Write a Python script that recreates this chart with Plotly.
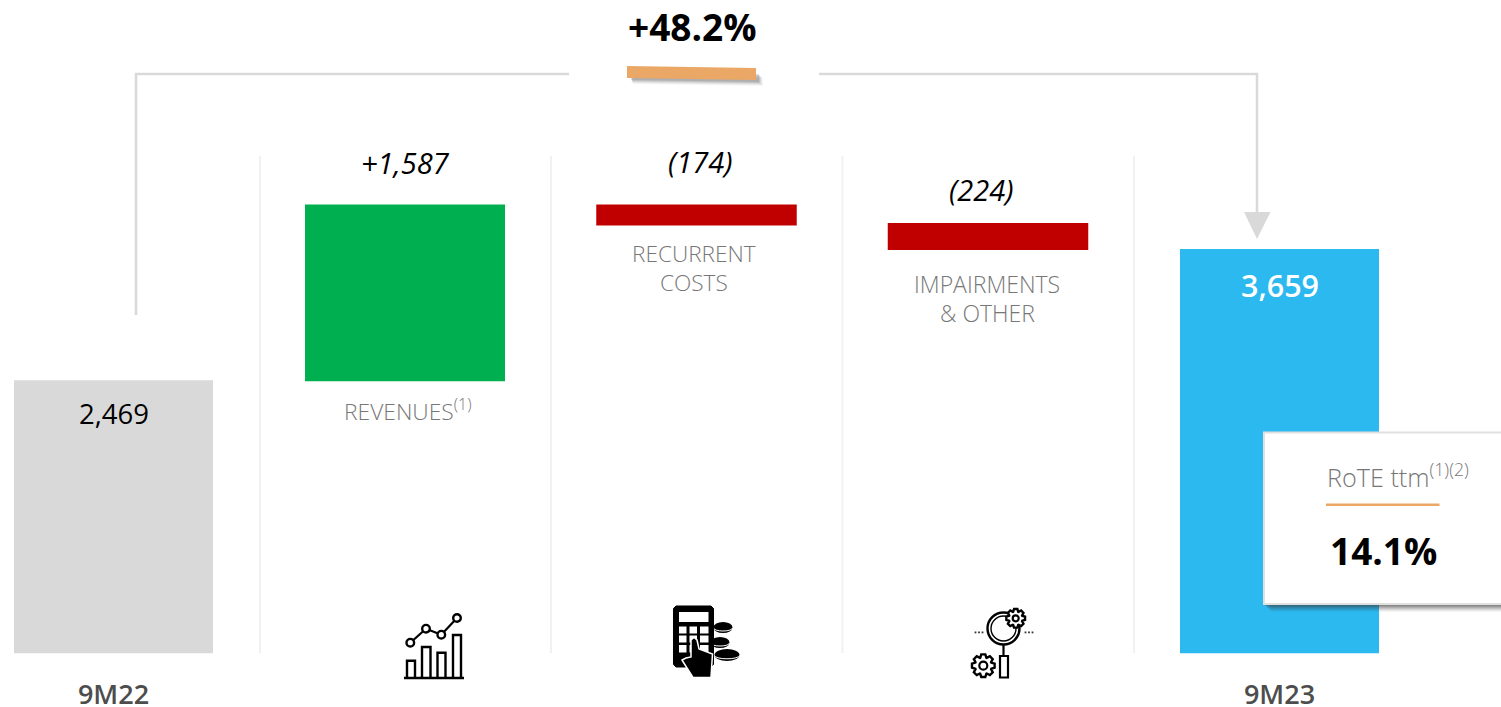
import math
import plotly.graph_objects as go

W, H = 1501, 707
STEP = 291.5
X0 = 113.5
ZERO_PX = 653.5
PX_PER_UNIT = 0.1107

# ---- data ----
categories = ["9M22", "Revenues", "Recurrent costs", "Impairments & other", "9M23"]
bar_base = [0, 2460, 3866, 3645, 0]
bar_top = [2469, 4056, 4056, 3890, 3655]
bar_colors = ["#D9D9D9", "#00B050", "#C00000", "#C00000", "#2CB9F0"]
bar_widths_px = [199, 200, 200.5, 200.5, 199]
value_labels = ["2,469", "+1,587", "(174)", "(224)", "3,659"]
tick_labels = ["9M22", "9M23"]
tick_positions = [0, 4]
headline = "+48.2%"
rote_title = "RoTE ttm<sup>(1)(2)</sup>"
rote_value = "14.1%"

FONT = "Open Sans"
GREY = "#D9D9D9"
ORANGE = "#EBA766"


def fx(x):
    return x / W


def fy(y):
    return 1 - y / H


def path(points, close=True):
    s = "M" + " L".join(f"{fx(x):.5f},{fy(y):.5f}" for x, y in points)
    return s + (" Z" if close else "")


shapes = []


def add_path(points, fill=None, line=None, lw=0, close=True, layer="above"):
    shapes.append(dict(type="path", xref="paper", yref="paper", path=path(points, close),
                       fillcolor=fill if fill else "rgba(0,0,0,0)",
                       line=dict(color=line if line else "rgba(0,0,0,0)", width=lw), layer=layer))


def add_rect(x0, y0, x1, y1, fill=None, line=None, lw=0, layer="above"):
    shapes.append(dict(type="rect", xref="paper", yref="paper", x0=fx(x0), x1=fx(x1), y0=fy(y1), y1=fy(y0),
                       fillcolor=fill if fill else "rgba(0,0,0,0)",
                       line=dict(color=line if line else "rgba(0,0,0,0)", width=lw), layer=layer))


def add_circle(cx, cy, r, fill=None, line=None, lw=0, ry=None):
    ry = r if ry is None else ry
    shapes.append(dict(type="circle", xref="paper", yref="paper", x0=fx(cx - r), x1=fx(cx + r),
                       y0=fy(cy + ry), y1=fy(cy - ry), fillcolor=fill if fill else "rgba(0,0,0,0)",
                       line=dict(color=line if line else "rgba(0,0,0,0)", width=lw), layer="above"))


def gear(cx, cy, r_out, r_in, r_hole, teeth=8):
    pts = []
    for i in range(teeth):
        a = 2 * math.pi * i / teeth
        d = math.pi / teeth
        for ang, r in [(a - d * 0.95, r_in), (a - d * 0.45, r_out), (a + d * 0.45, r_out), (a + d * 0.95, r_in)]:
            pts.append((cx + r * math.cos(ang), cy + r * math.sin(ang)))
    add_path(pts, fill="#FFFFFF", line="#000000", lw=2.4)
    add_circle(cx, cy, r_hole, fill="#FFFFFF", line="#000000", lw=2.2)


def coin(cx, cy, rx, ry):
    add_circle(cx, cy, rx, fill="#000000", ry=ry)
    curve = [(cx + rx * math.cos(t / 8 * math.pi), cy + 0.5 + ry * 0.55 * math.sin(t / 8 * math.pi)) for t in range(9)]
    add_path(curve, line="#FFFFFF", lw=1, close=False)


# separators
for sx in [260, 551, 842.5, 1134]:
    add_path([(sx, 156), (sx, 653)], line="#F1F1F1", lw=2, close=False, layer="below")

# connector
add_path([(136, 315), (136, 74), (569, 74)], line=GREY, lw=2.5, close=False)
add_path([(819, 74), (1257, 74), (1257, 214)], line=GREY, lw=2.5, close=False)
add_path([(1244, 212), (1270.5, 212), (1257, 239)], fill=GREY)

# orange slanted marker with soft shadow
for off, alpha in [(7, 0.05), (6, 0.08), (5, 0.11), (4, 0.14), (3, 0.17)]:
    add_path([(630 + off * 0.4, 69 + off), (756 + off, 71 + off), (756 + off, 79 + off), (630 + off * 0.4, 77 + off)],
             fill=f"rgba(80,80,80,{alpha})")
add_path([(627, 66), (756, 68), (756, 80), (627, 78)], fill=ORANGE)

# card
for off, alpha in [(8, 0.05), (7, 0.07), (6, 0.09), (5, 0.12), (4, 0.15), (3, 0.18), (2, 0.2)]:
    add_rect(1263 + off, 440, 1510, 604 + off, fill=f"rgba(60,60,60,{alpha})")
add_rect(1264, 432.5, 1510, 604, fill="#FFFFFF", line="#E0E0E0", lw=2)
add_rect(1326, 503.5, 1439.5, 506, fill=ORANGE)

# chart icon
add_path([(404, 678), (464, 678)], line="#000000", lw=2.5, close=False)
for x0, x1, top in [(407, 415, 660.7), (422, 430.5, 647), (437.5, 445.5, 652.7), (453, 461, 635)]:
    add_path([(x0, 678), (x0, top), (x1, top), (x1, 678)], line="#000000", lw=2.4, close=False)
dots = [(410.3, 642.7), (426, 628.7), (441.3, 634.7), (457, 618)]
add_path(dots, line="#000000", lw=2.2, close=False)
for cx, cy in dots:
    add_circle(cx, cy, 3.8, fill="#FFFFFF", line="#000000", lw=2.4)

# calculator icon
coin(723, 627.5, 9.5, 5.5)
coin(720, 642.5, 9.5, 5.5)
coin(727, 655, 12.5, 6)
add_path([(676, 606), (711, 606), (713.5, 608.5), (713.5, 664.5), (711, 667), (676, 667), (673.5, 664.5), (673.5, 608.5)],
         fill="#000000", line="#000000", lw=1)
add_rect(679, 612, 708.5, 622, fill="#FFFFFF")
for bx0, bx1 in [(679, 686.5), (689.5, 697), (700, 708.5)]:
    for by0, by1 in [(626.5, 633.5), (635.5, 642.5), (645, 652.5)]:
        add_rect(bx0, by0, bx1, by1, fill="#FFFFFF")
add_path([(691, 640), (691, 657), (686, 658), (682, 660), (687, 668), (693, 677.5), (711, 677.5), (712.5, 654),
          (699, 649), (697, 640), (694, 637.5)], fill="#000000", line="#FFFFFF", lw=1.5)

# magnifier icon
add_path([(1003.5, 645), (1003.5, 656)], line="#000000", lw=2.2, close=False)
add_rect(1000, 656, 1008, 677.5, fill="#FFFFFF", line="#000000", lw=2.2)
add_circle(1003.5, 628.5, 16, line="#000000", lw=2.4)
add_circle(1003.5, 628.5, 12.5, line="#000000", lw=1.4)
gear(1015.7, 618.3, 9.5, 7, 3)
gear(983.3, 665.7, 11.5, 8.5, 4)
for dx in [975.5, 979, 982.5, 1025.5, 1029, 1032.5]:
    add_rect(dx - 0.9, 631.5, dx + 0.9, 633.3, fill="#333333")


def note(px, py, text, size, color="#000000", weight=400, italic=False, align="center"):
    return dict(xref="paper", yref="paper", x=fx(px), y=fy(py), text=text, showarrow=False,
                xanchor=align, yanchor="middle", align="center",
                font=dict(family=FONT, size=size, color=color, weight=weight,
                          style="italic" if italic else "normal"))


LIGHT = "#777777"
annotations = [
    note(692, 27, headline, 37, weight=700),
    note(113.5, 413, value_labels[0], 27.5),
    note(405.5, 162.5, value_labels[1], 29, italic=True),
    note(700, 161.5, value_labels[2], 29, italic=True),
    note(981, 190, value_labels[3], 29, italic=True),
    note(1280, 284.5, value_labels[4], 30.5, color="#FFFFFF", weight=600),
    note(407.5, 410, "REVENUES<sup>(1)</sup>", 22.8, color=LIGHT, weight=300),
    note(693.5, 254, "RECURRENT", 22.6, color=LIGHT, weight=300),
    note(693.5, 283, "COSTS", 22.6, color=LIGHT, weight=300),
    note(987, 284, "IMPAIRMENTS", 23, color=LIGHT, weight=300),
    note(987, 313, "&amp; OTHER", 23, color=LIGHT, weight=300),
    note(1398, 475.5, rote_title, 25.2, color=LIGHT, weight=300),
    note(1383, 550, rote_value, 37, weight=700),
]

fig = go.Figure()
for i, cat in enumerate(categories):
    fig.add_trace(go.Bar(x=[i], y=[bar_top[i] - bar_base[i]], base=[bar_base[i]],
                         width=[bar_widths_px[i] / STEP], name=cat,
                         marker=dict(color=bar_colors[i], line=dict(width=0)), showlegend=False,
                         hoverinfo="skip"))

fig.update_layout(
    width=W, height=H, margin=dict(l=0, r=0, t=0, b=0, pad=0, autoexpand=False),
    paper_bgcolor="#FFFFFF", plot_bgcolor="rgba(0,0,0,0)", showlegend=False, barmode="overlay",
    shapes=shapes, annotations=annotations,
    xaxis=dict(range=[-X0 / STEP, (W - X0) / STEP], tickmode="array", tickvals=tick_positions,
               ticktext=tick_labels, showgrid=False, zeroline=False, showline=False, ticks="",
               tickfont=dict(family=FONT, size=27, color="#4D4D4D", weight=600), ticklabelstandoff=22,
               fixedrange=True),
    yaxis=dict(domain=[(H - ZERO_PX) / H, 1], range=[0, ZERO_PX / PX_PER_UNIT], visible=False, fixedrange=True),
)
fig.write_html("out.html", config=dict(displayModeBar=False),
               post_script="document.body.style.margin='0';document.body.style.overflow='hidden';")
